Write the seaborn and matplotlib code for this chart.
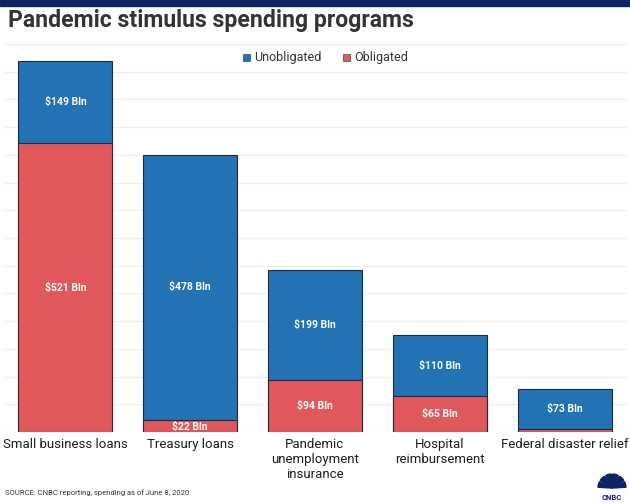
import matplotlib
matplotlib.use("Agg")
import matplotlib.pyplot as plt
import seaborn as sns
import pandas as pd
from matplotlib.patches import Rectangle, Wedge

categories = ["Small business loans", "Treasury loans", "Pandemic\nunemployment\ninsurance",
              "Hospital\nreimbursement", "Federal disaster relief"]
obligated = [521, 22, 94, 65, 5]
unobligated = [149, 478, 199, 110, 73]
obligated_labels = ["$521 Bln", "$22 Bln", "$94 Bln", "$65 Bln", ""]
unobligated_labels = ["$149 Bln", "$478 Bln", "$199 Bln", "$110 Bln", "$73 Bln"]

BLUE = "#2272b4"
RED = "#e0585b"
EDGE = "#1c2b3f"

df = pd.DataFrame({"program": categories,
                   "total": [o + u for o, u in zip(obligated, unobligated)],
                   "obligated": obligated})

sns.set_theme(style="white")
plt.rcParams['font.family'] = ['Roboto', 'DejaVu Sans']

fig = plt.figure(figsize=(6.3, 5.04), dpi=100)
ax = fig.add_axes([3/630, 1 - 432/504, 624/630, (432 - 44)/504])

sns.barplot(data=df, x="program", y="total", color=BLUE, width=0.752,
            edgecolor=EDGE, linewidth=0.8, saturation=1, ax=ax)
sns.barplot(data=df, x="program", y="obligated", color=RED, width=0.752,
            edgecolor=EDGE, linewidth=0.8, saturation=1, ax=ax)

ax.set_ylim(0, 700)
ax.set_xlim(-0.5, 4.5)
ax.set_yticks(range(0, 701, 50))
ax.set_yticklabels([])
ax.yaxis.grid(True, color="#efefef", linewidth=0.8)
ax.set_axisbelow(True)
for s in ax.spines.values():
    s.set_visible(False)
ax.set_xlabel("")
ax.set_ylabel("")
ax.tick_params(axis="x", length=0, pad=4, labelsize=9.5, labelcolor="#1e1e1e")
ax.tick_params(axis="y", length=0)
for lbl in ax.get_xticklabels():
    lbl.set_va("top")

for i, (o, u) in enumerate(zip(obligated, unobligated)):
    if unobligated_labels[i]:
        ax.text(i, o + u / 2, unobligated_labels[i], ha="center", va="center",
                color="white", fontsize=7.5, fontweight="semibold")
    if obligated_labels[i]:
        y = o / 2 if o > 40 else o / 2 - 2
        ax.text(i, y, obligated_labels[i], ha="center", va="center",
                color="white", fontsize=7.5, fontweight="semibold")

# top band
fig.patches.append(Rectangle((0, 1 - 6/504), 1, 6/504, transform=fig.transFigure,
                             color="#0b2461", zorder=5))
fig.text(8/630, 1 - 21/504, "Pandemic stimulus spending programs", fontsize=16.6,
         fontweight="bold", color="#333333", va="center", ha="left")

# legend
fig.patches.append(Rectangle((243/630, 1 - 61/504), 7/630, 7/504, transform=fig.transFigure,
                             facecolor=BLUE, edgecolor=EDGE, linewidth=0.4))
fig.text(254/630, 1 - 57/504, "Unobligated", fontsize=9, color="#333333", va="center")
fig.patches.append(Rectangle((343/630, 1 - 61/504), 7/630, 7/504, transform=fig.transFigure,
                             facecolor=RED, edgecolor=EDGE, linewidth=0.4))
fig.text(354/630, 1 - 57/504, "Obligated", fontsize=9, color="#333333", va="center")

fig.text(5/630, 1 - 493/504, "SOURCE: CNBC reporting, spending as of June 8, 2020",
         fontsize=5.5, color="#333333", va="center")

# CNBC logo approximation
for k, a in enumerate(range(0, 180, 30)):
    fig.patches.append(Wedge((612, 16), 14, a + 3, a + 27, transform=None,
                             color="#0b2461"))
fig.text(612/630, 1 - 498/504, "CNBC", fontsize=5.5, fontweight="bold",
         color="#0b2461", ha="center", va="center")

fig.savefig("out.png", dpi=100)
